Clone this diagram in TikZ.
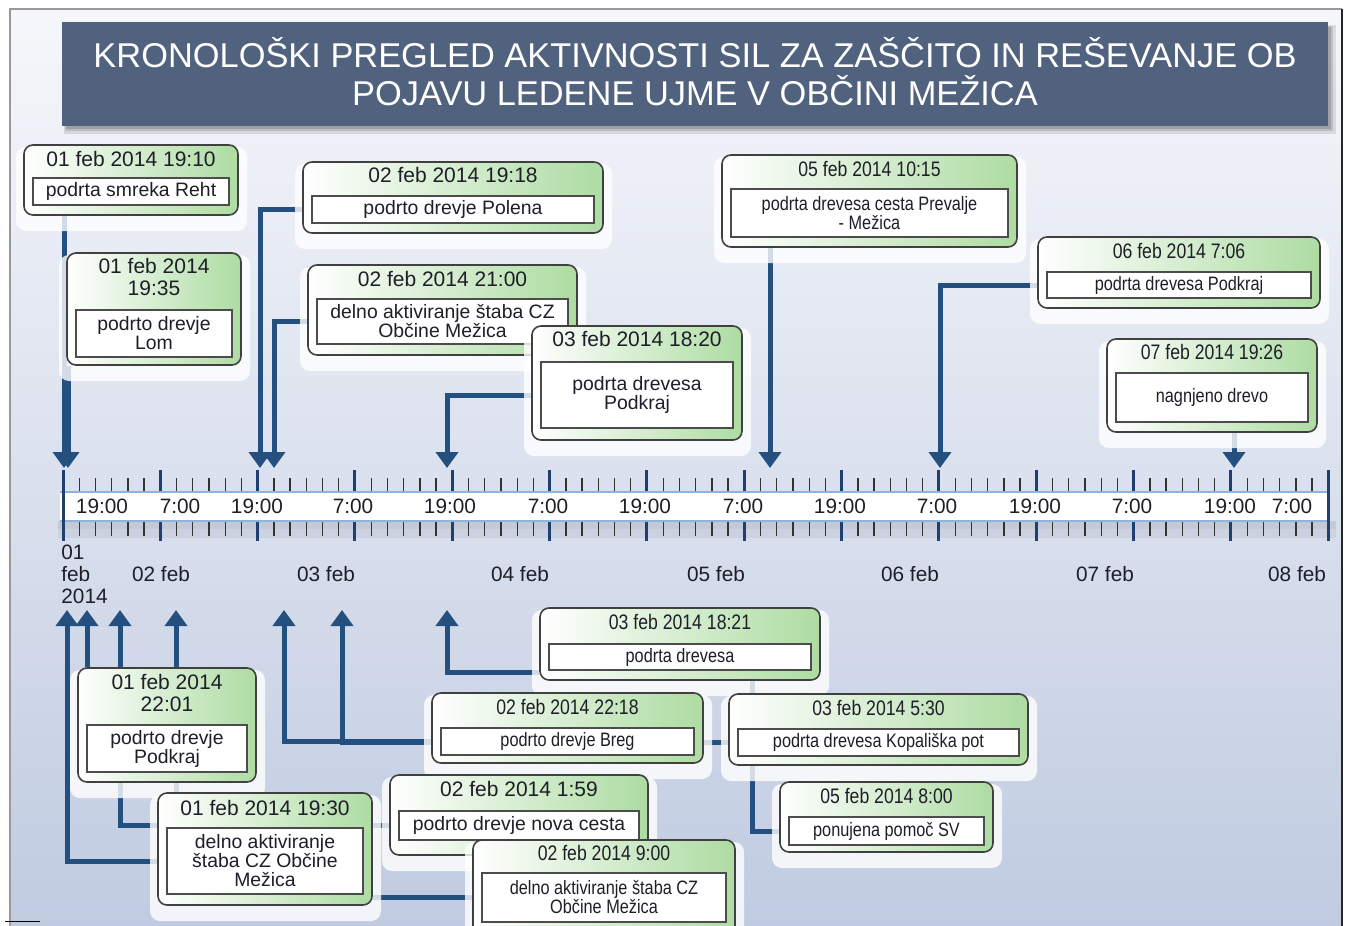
\documentclass[tikz,border=0pt]{standalone}
\usepackage{fontspec}
\setmainfont{Liberation Sans}
\newfontfamily\cnd[FakeStretch=0.84]{Liberation Sans}
\usetikzlibrary{arrows.meta,fit,calc}
\pgfdeclarelayer{bg}
\pgfdeclarelayer{conn}
\pgfsetlayers{bg,conn,main}

\definecolor{bgtop}{HTML}{F6F7FB}
\definecolor{bgbot}{HTML}{C0CBE1}
\definecolor{titlebg}{HTML}{50627E}
\definecolor{arr}{HTML}{24507F}
\definecolor{gbox}{HTML}{ADDCA2}
\definecolor{txt}{HTML}{1E1E28}
\definecolor{tickc}{HTML}{1F3F6E}
\definecolor{bandline}{HTML}{8FB3DC}

\tikzset{
 halo/.style={fill=white, opacity=0.8, rounded corners=5pt},
 evbox/.style={draw=black!75, line width=0.8pt, rounded corners=4.5pt, left color=white, right color=gbox, inner sep=0pt},
 inbox/.style={draw=black!70, line width=0.6pt, fill=white, inner sep=0pt},
 ttl/.style={text=txt, font=\fontsize{10.5}{11}\selectfont, align=center, inner sep=0pt},
 ttlc/.style={text=txt, font={\cnd\fontsize{10.5}{11}\selectfont}, align=center, inner sep=0pt},
 dsc/.style={text=txt, font=\fontsize{9.7}{9.5}\selectfont, align=center, inner sep=0pt},
 dscc/.style={text=txt, font={\cnd\fontsize{9.7}{9.5}\selectfont}, align=center, inner sep=0pt},
 axl/.style={text=txt, font=\fontsize{10.4}{11}\selectfont, inner sep=0pt},
 conn/.style={draw=arr, line width=2.5pt, -{Triangle[width=11pt,length=8pt]}},
 minort/.style={draw=black!80, line width=0.7pt},
 majort/.style={draw=tickc, line width=1.5pt},
}

\newcommand{\evbox}[5]{%
 \def\evname{#1}\def\evxa{#2}\def\evxb{#4}%
 \fill[halo] (#2-8,#3+2) rectangle (#4+9,#5+16);
 \node[evbox, fit={(#2,#3) (#4,#5)}] (#1) {};
}
\newcommand{\evtext}[7]{%
 \node[#4] (\evname t) at ({(\evxa+\evxb)/2},#1) {#5};
 \node[inbox, fit={(\evxa+9,#2) (\evxb-9,#3)}] (\evname i) {};
 \node[#6] (\evname d) at (\evname i.center) {#7};
}

\begin{document}
\begin{tikzpicture}[x=0.5pt,y=-0.5pt]
\useasboundingbox (0,0) rectangle (1347,925);
\clip (0,0) rectangle (1347,925);

\begin{pgfonlayer}{bg}
 \fill[white] (0,0) rectangle (1347,925);
 \shade[top color=bgtop, bottom color=bgbot] (10,9) rectangle (1342,930);
 \draw[black!40, line width=0.6pt] (10,930) -- (10,9) -- (1342,9);
 \draw[black!85, line width=0.7pt] (1342,9) -- (1342,930);
 \draw[black, line width=0.5pt] (5,921) -- (40,921);
 % title
 \fill[black, opacity=0.10] (64,25) rectangle (1336,134);
 \fill[black, opacity=0.12] (65,26) rectangle (1333,131);
 \fill[black, opacity=0.15] (66,27) rectangle (1331,129);
 \node[fill=titlebg, inner sep=0pt, fit={(62,22) (1328,126)}] (tbox) {};
 \node[text=white, font=\fontsize{17.2}{19}\selectfont, align=center, inner sep=0pt] (title) at (695,72)
   {KRONOLOŠKI PREGLED AKTIVNOSTI SIL ZA ZAŠČITO IN REŠEVANJE OB\\POJAVU LEDENE UJME V OBČINI MEŽICA};
 % axis band
 \fill[black, opacity=0.09] (58,521) rectangle (1336,529);
 \fill[black, opacity=0.05] (58,529) rectangle (1336,538);
 \fill[white] (60,492) rectangle (1330,521);
 \draw[bandline, line width=0.6pt] (60,492) -- (1330,492);
 \draw[bandline, line width=0.6pt] (60,521) -- (1330,521);
 \foreach \m in {0,...,78} {
   \draw[minort] ({63+16.222*\m},478) -- ({63+16.222*\m},491);
   \draw[minort] ({63+16.222*\m},522) -- ({63+16.222*\m},536);
 }
 \foreach \k in {0,...,13} {
   \draw[majort] ({63+97.33*\k},470) -- ({63+97.33*\k},491);
   \draw[majort] ({63+97.33*\k},522) -- ({63+97.33*\k},541);
 }
 \draw[majort] (63,470) -- (63,541);
 \draw[majort] (1328,470) -- (1328,541);
 \foreach \xx/\lab [count=\c] in {102/19:00,180/7:00,257/19:00,353/7:00,450/19:00,548/7:00,645/19:00,743/7:00,840/19:00,937/7:00,1035/19:00,1132/7:00,1230/19:00,1292/7:00}
   \node[axl] (hl\c) at (\xx,506) {\lab};
 \node[axl, align=left, anchor=west, font=\fontsize{10.4}{11}\selectfont] (d1) at (61,574) {01\\feb\\2014};
 \foreach \xx/\lab [count=\c] in {161/02 feb,326/03 feb,520/04 feb,716/05 feb,910/06 feb,1105/07 feb,1297/08 feb}
   \node[axl] (dl\c) at (\xx,574) {\lab};
\end{pgfonlayer}

% boxes
\evbox{A}{24}{145}{238}{215}
\evtext{159}{178}{205}{ttl}{01 feb 2014 19:10}{dsc}{podrta smreka Reht}
\evbox{B}{303}{162}{603}{233}
\evtext{175}{196}{223}{ttl}{02 feb 2014 19:18}{dsc}{podrto drevje Polena}
\evbox{C}{67}{253}{241}{365}
\evtext{277}{310}{357}{ttl}{01 feb 2014\\19:35}{dsc}{podrto drevje\\Lom}
\evbox{D}{308}{265}{577}{355}
\evtext{279}{299}{344}{ttl}{02 feb 2014 21:00}{dsc}{delno aktiviranje štaba CZ\\Občine Mežica}
\evbox{E}{532}{326}{742}{440}
\evtext{339}{362}{428}{ttl}{03 feb 2014 18:20}{dsc}{podrta drevesa\\Podkraj}
\evbox{F}{722}{155}{1017}{247}
\evtext{169}{189}{237}{ttlc}{05 feb 2014 10:15}{dscc}{podrta drevesa cesta Prevalje\\- Mežica}
\evbox{G}{1038}{237}{1320}{308}
\evtext{251}{272}{298}{ttlc}{06 feb 2014 7:06}{dscc}{podrta drevesa Podkraj}
\evbox{H}{1107}{339}{1317}{432}
\evtext{352}{373}{422}{ttlc}{07 feb 2014 19:26}{dscc}{nagnjeno drevo}
\evbox{I}{540}{608}{820}{680}
\evtext{622}{644}{670}{ttlc}{03 feb 2014 18:21}{dscc}{podrta drevesa}
\evbox{J}{78}{668}{256}{782}
\evtext{693}{725}{772}{ttl}{01 feb 2014\\22:01}{dsc}{podrto drevje\\Podkraj}
\evbox{K}{432}{693}{703}{763}
\evtext{707}{728}{755}{ttlc}{02 feb 2014 22:18}{dscc}{podrto drevje Breg}
\evbox{L}{729}{694}{1028}{765}
\evtext{708}{729}{756}{ttlc}{03 feb 2014 5:30}{dscc}{podrta drevesa Kopališka pot}
\evbox{M}{158}{793}{372}{905}
\evtext{808}{828}{894}{ttl}{01 feb 2014 19:30}{dsc}{delno aktiviranje\\štaba CZ Občine\\Mežica}
\evbox{N}{390}{775}{648}{855}
\evtext{789}{811}{840}{ttl}{02 feb 2014 1:59}{dsc}{podrto drevje nova cesta}
\evbox{O}{780}{782}{993}{852}
\evtext{796}{817}{845}{ttlc}{05 feb 2014 8:00}{dscc}{ponujena pomoč SV}
\evbox{P}{473}{840}{735}{935}
\evtext{853}{873}{922}{ttlc}{02 feb 2014 9:00}{dscc}{delno aktiviranje štaba CZ\\Občine Mežica}

% connectors
\begin{pgfonlayer}{conn}
 \coordinate (tA) at (64,468);
 \coordinate (tC) at (68,468);
 \coordinate (tB) at (260,468);
 \coordinate (tD) at (274,468);
 \coordinate (tE) at (447,468);
 \coordinate (tF) at (770,468);
 \coordinate (tG) at (940,468);
 \coordinate (tH) at (1234,468);
 \coordinate (tM) at (67,610);
 \coordinate (tJ) at (87,610);
 \coordinate (tN) at (120,610);
 \coordinate (tP) at (176,610);
 \coordinate (tK) at (284,610);
 \coordinate (tL) at (342,610);
 \coordinate (tI) at (447,610);
 \coordinate (tO) at (752,610);
 \draw[conn] (tA |- A.south) -- (tA);
 \draw[conn] (tC |- C.south) -- (tC);
 \draw[conn] (Bd -| B.west) -| (tB);
 \draw[conn] (Dd -| D.west) -| (tD);
 \draw[conn] (Ed -| E.west) -| (tE);
 \draw[conn] (tF |- F.south) -- (tF);
 \draw[conn] (Gd -| G.west) -| (tG);
 \draw[conn] (tH |- H.south) -- (tH);
 \draw[conn] (Md -| M.west) -| (tM);
 \draw[conn] (tJ |- J.north) -- (tJ);
 \draw[conn] (Nd -| N.west) -| (tN);
 \draw[conn] (Pd -| P.west) -| (tP);
 \draw[conn] (Kd -| K.west) -| (tK);
 \draw[conn] (Ld -| L.west) -| (tL);
 \draw[conn] ([yshift=4pt]I.south west) -| (tI);
 \draw[conn] (Od -| O.west) -| (tO);
\end{pgfonlayer}
\end{tikzpicture}
\end{document}
